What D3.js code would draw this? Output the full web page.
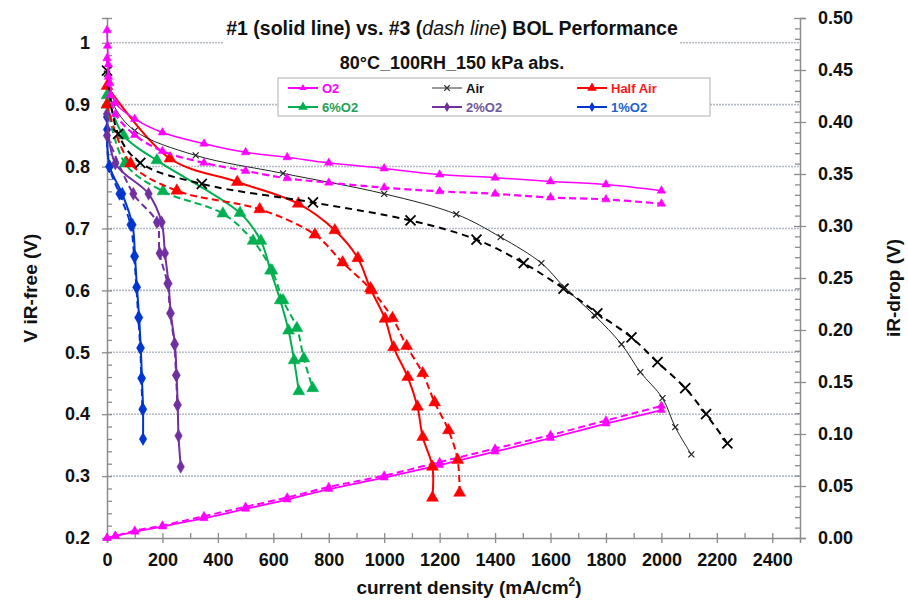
<!DOCTYPE html>
<html><head><meta charset="utf-8">
<script src="https://cdn.jsdelivr.net/npm/d3@7"></script>
<style>
body{margin:0;background:#fff}
svg{display:block}
text{font-family:"Liberation Sans",Arial,sans-serif;font-weight:bold}
</style>
</head><body>
<svg id="c" width="908" height="600"></svg>
<script>
// ---------- data (current density mA/cm2, voltage V) ----------
const O2_1   = [[0,1.02],[2,0.995],[5,0.965],[10,0.935],[30,0.903],[100,0.877],[200,0.855],[350,0.837],[500,0.823],[650,0.815],[800,0.806],[1000,0.797],[1200,0.787],[1400,0.782],[1600,0.776],[1800,0.771],[2000,0.761]];
const O2_3   = [[0,0.975],[5,0.945],[12,0.915],[30,0.885],[100,0.851],[200,0.825],[350,0.806],[500,0.793],[650,0.781],[800,0.774],[1000,0.766],[1200,0.760],[1400,0.756],[1600,0.750],[1800,0.747],[2000,0.740]];
const Air_1  = [[0,0.95],[20,0.903],[100,0.858],[320,0.818],[635,0.789],[1000,0.756],[1260,0.723],[1420,0.686],[1567,0.644],[1650,0.605],[1758,0.560],[1856,0.513],[1924,0.468],[2004,0.426],[2050,0.379],[2108,0.335]];
const Air_3  = [[0,0.955],[40,0.853],[120,0.806],[342,0.772],[743,0.742],[1095,0.713],[1333,0.682],[1503,0.644],[1647,0.603],[1769,0.563],[1892,0.524],[1986,0.484],[2086,0.442],[2161,0.400],[2238,0.353]];
const Half_1 = [[0,0.93],[227,0.813],[470,0.775],[690,0.740],[822,0.697],[905,0.652],[950,0.603],[1003,0.554],[1034,0.508],[1085,0.460],[1120,0.412],[1139,0.363],[1174,0.315],[1174,0.265]];
const Half_3 = [[0,0.90],[85,0.805],[252,0.761],[551,0.731],[750,0.690],[850,0.645],[955,0.600],[1030,0.555],[1081,0.510],[1139,0.466],[1182,0.419],[1232,0.374],[1265,0.326],[1272,0.273]];
const Six_1  = [[0,0.915],[60,0.850],[180,0.810],[480,0.725],[555,0.680],[590,0.632],[625,0.584],[655,0.535],[675,0.487],[692,0.437]];
const Six_3  = [[0,0.90],[65,0.805],[202,0.760],[418,0.724],[527,0.680],[595,0.632],[635,0.584],[685,0.539],[710,0.490],[742,0.442]];
const Two_1  = [[0,0.885],[30,0.805],[150,0.756],[197,0.710],[209,0.660],[222,0.611],[230,0.563],[245,0.513],[251,0.463],[255,0.415],[258,0.365],[266,0.315]];
const Two_3  = [[0,0.850],[95,0.756],[180,0.710],[190,0.660],[218,0.611],[228,0.563],[243,0.513],[249,0.463],[254,0.415]];
const One_1  = [[0,0.88],[10,0.80],[55,0.756],[92,0.706],[101,0.655],[108,0.605],[116,0.556],[122,0.507],[126,0.458],[130,0.408],[130,0.360]];
const One_3  = [[0,0.86],[8,0.80],[45,0.756],[85,0.706],[98,0.655],[106,0.605],[113,0.556],[120,0.507],[124,0.458],[128,0.408]];
// iR-drop (right axis)
const iR_x   = [0,30,100,200,350,500,650,800,1000,1200,1400,1600,1800,2000];
const iR_1   = [0,0.002,0.006,0.011,0.019,0.028,0.037,0.047,0.058,0.070,0.083,0.096,0.110,0.123];
const iR_3   = [0,0.002,0.007,0.012,0.021,0.030,0.039,0.049,0.060,0.073,0.086,0.099,0.113,0.127];
// ticks
const xMajor = d3.range(0,2401,200);
const xMinor = d3.range(100,2500,200);
const yMajor = [0.2,0.3,0.4,0.5,0.6,0.7,0.8,0.9,1.0];
const yMinor = d3.range(0.22,1.041,0.02).filter(v=>Math.abs(v*10-Math.round(v*10))>0.01);
const rMajor = d3.range(0,0.5001,0.05);
const rMinor = d3.range(0.01,0.5,0.01).filter(v=>Math.abs(v*20-Math.round(v*20))>0.01);
const legendNames = ["O2","Air","Half Air","6%O2","2%O2","1%O2"];

// ---------- setup ----------
const svg = d3.select("#c");
const L=107,R=800,T=18,B=538;
const x = d3.scaleLinear([0,2500],[L,R]);
const y = d3.scaleLinear([0.2,1.04],[B,T]);
const yr = d3.scaleLinear([0,0.5],[B,T]);
const AX = "#8c8c8c";

// gridlines
svg.append("g").selectAll("line").data(yMajor.filter(v=>v>0.25)).join("line")
  .attr("x1",L).attr("x2",R).attr("y1",d=>y(d)).attr("y2",d=>y(d))
  .attr("stroke","#b3bcc5").attr("stroke-width",1.6).attr("stroke-dasharray","2,1");

function styleAxis(g){
  g.select(".domain").attr("stroke",AX).attr("stroke-width",1.5);
  g.selectAll(".tick line").attr("stroke",AX).attr("stroke-width",1.3);
  g.selectAll("text").attr("fill","#111").attr("font-size",18).attr("font-weight","bold")
   .attr("font-family",'"Liberation Sans",Arial,sans-serif');
}
// x axis
svg.append("g").attr("transform",`translate(0,${B})`)
  .call(d3.axisBottom(x).tickValues(xMajor).tickSize(5).tickPadding(10).tickFormat(d3.format("d")))
  .call(styleAxis);
svg.append("g").attr("transform",`translate(0,${B})`)
  .call(d3.axisBottom(x).tickValues(xMajor).tickSize(-5).tickFormat("")).call(styleAxis)
  .select(".domain").remove();
svg.append("g").attr("transform",`translate(0,${B})`)
  .call(d3.axisBottom(x).tickValues(xMinor).tickSize(-5).tickFormat("")).call(styleAxis)
  .select(".domain").remove();
// left axis
svg.append("g").attr("transform",`translate(${L},0)`)
  .call(d3.axisLeft(y).tickValues(yMajor).tickSize(5).tickPadding(12).tickFormat(d=>d===1?"1":d.toFixed(1)))
  .call(styleAxis);
svg.append("g").attr("transform",`translate(${L},0)`)
  .call(d3.axisLeft(y).tickValues(yMajor).tickSize(-5).tickFormat("")).call(styleAxis)
  .select(".domain").remove();
svg.append("g").attr("transform",`translate(${L},0)`)
  .call(d3.axisLeft(y).tickValues(yMinor).tickSize(-5).tickFormat("")).call(styleAxis)
  .select(".domain").remove();
// right axis
svg.append("g").attr("transform",`translate(${R},0)`)
  .call(d3.axisRight(yr).tickValues(rMajor).tickSize(6).tickPadding(12).tickFormat(d=>d.toFixed(2)))
  .call(styleAxis);
svg.append("g").attr("transform",`translate(${R},0)`)
  .call(d3.axisRight(yr).tickValues(rMajor).tickSize(-6).tickFormat("")).call(styleAxis)
  .select(".domain").remove();
svg.append("g").attr("transform",`translate(${R},0)`)
  .call(d3.axisRight(yr).tickValues(rMinor).tickSize(-5).tickFormat("")).call(styleAxis)
  .select(".domain").remove();

// axis titles
svg.append("text").attr("transform",`translate(30,${(T+B)/2+10}) rotate(-90)`).attr("text-anchor","middle")
  .attr("dominant-baseline","central").attr("font-size",19).attr("fill","#111").text("V iR-free (V)");
svg.append("text").attr("transform",`translate(893,${(T+B)/2+10}) rotate(-90)`).attr("text-anchor","middle")
  .attr("dominant-baseline","central").attr("font-size",19).attr("fill","#111").text("iR-drop (V)");
const xt = svg.append("text").attr("x",469).attr("y",594).attr("text-anchor","middle")
  .attr("font-size",19).attr("fill","#111");
xt.append("tspan").text("current density (mA/cm");
xt.append("tspan").attr("font-size",12).attr("dy",-8).text("2");
xt.append("tspan").attr("dy",8).text(")");

// ---------- series ----------
const symX = {draw(ctx,size){const r=Math.sqrt(size)/2;ctx.moveTo(-r,-r);ctx.lineTo(r,r);ctx.moveTo(r,-r);ctx.lineTo(-r,r);}};
const C = {o2:"#ff00ff",air:"#000000",half:"#ff0000",six:"#00b050",two:"#7030a0",one:"#0035d0"};
const series = [
  {d:iR_x.map((v,i)=>[v,iR_1[i]]),col:C.o2,sym:d3.symbolTriangle,size:30,w:1.8,dash:null,right:true},
  {d:iR_x.map((v,i)=>[v,iR_3[i]]),col:C.o2,sym:d3.symbolTriangle,size:30,w:2,dash:"7,4",right:true},
  {d:One_3,col:C.one,sym:d3.symbolDiamond,size:48,w:2,dash:"7,4"},
  {d:One_1,col:C.one,sym:d3.symbolDiamond,size:48,w:2,dash:null},
  {d:Two_3,col:C.two,sym:d3.symbolDiamond,size:48,w:2,dash:"7,4"},
  {d:Two_1,col:C.two,sym:d3.symbolDiamond,size:48,w:2,dash:null},
  {d:Six_3,col:C.six,sym:d3.symbolTriangle,size:62,w:2,dash:"7,4"},
  {d:Six_1,col:C.six,sym:d3.symbolTriangle,size:62,w:2,dash:null},
  {d:Half_3,col:C.half,sym:d3.symbolTriangle,size:62,w:2,dash:"7,4"},
  {d:Half_1,col:C.half,sym:d3.symbolTriangle,size:62,w:2,dash:null},
  {d:Air_3,col:C.air,sym:symX,size:100,w:2,dash:"7,5",stroke:true,sw:1.8},
  {d:Air_1,col:"#222",sym:symX,size:36,w:1,dash:null,stroke:true,sw:1.2},
  {d:O2_3,col:C.o2,sym:d3.symbolTriangle,size:32,w:2.2,dash:"7,4"},
  {d:O2_1,col:C.o2,sym:d3.symbolTriangle,size:32,w:1.5,dash:null},
];
const plot = svg.append("g");
series.forEach(s=>{
  const yy = s.right?yr:y;
  const line = d3.line().x(d=>x(d[0])).y(d=>yy(d[1])).curve(d3.curveCatmullRom.alpha(0.5));
  plot.append("path").attr("d",line(s.d)).attr("fill","none").attr("stroke",s.col)
    .attr("stroke-width",s.w).attr("stroke-dasharray",s.dash);
  plot.append("g").selectAll("path").data(s.d).join("path")
    .attr("transform",d=>`translate(${x(d[0])},${yy(d[1])})`)
    .attr("d",d3.symbol().type(s.sym).size(s.size))
    .attr("fill",s.stroke?"none":s.col).attr("stroke",s.col).attr("stroke-width",s.stroke?s.sw:0.5);
});

// ---------- title ----------
svg.append("rect").attr("x",223).attr("y",19).attr("width",457).attr("height",58).attr("fill","#fff");
const t1 = svg.append("text").attr("x",452).attr("y",35).attr("text-anchor","middle").attr("font-size",19.5)
  .attr("fill","#111").attr("font-family","Lato, 'Liberation Sans', sans-serif");
t1.append("tspan").text("#1 (solid line) vs. #3 (");
t1.append("tspan").attr("font-style","italic").attr("font-weight","normal").text("dash line");
t1.append("tspan").text(") BOL Performance");
svg.append("text").attr("x",452).attr("y",69).attr("text-anchor","middle").attr("font-size",18)
  .attr("fill","#111").attr("font-family","Lato, 'Liberation Sans', sans-serif").text("80°C_100RH_150 kPa abs.");

// ---------- legend ----------
const leg = svg.append("g");
leg.append("rect").attr("x",278).attr("y",78).attr("width",432).attr("height",38)
  .attr("fill","#fff").attr("stroke","#bdbdbd").attr("stroke-width",1.2);
const legItems = [
  {n:legendNames[0],col:C.o2,tc:"#ff00ff",sym:d3.symbolTriangle,size:22},
  {n:legendNames[1],col:"#333",tc:"#111",sym:symX,size:30,stroke:true},
  {n:legendNames[2],col:C.half,tc:"#ff1a1a",sym:d3.symbolTriangle,size:40},
  {n:legendNames[3],col:C.six,tc:"#1fa257",sym:d3.symbolTriangle,size:40},
  {n:legendNames[4],col:C.two,tc:"#6b5a9e",sym:d3.symbolDiamond,size:30},
  {n:legendNames[5],col:C.one,tc:"#1f5fcf",sym:d3.symbolDiamond,size:30},
];
const colX=[288,432,577], rowY=[88,107];
legItems.forEach((it,i)=>{
  const cx=colX[i%3], cy=rowY[Math.floor(i/3)];
  const g=leg.append("g");
  g.append("line").attr("x1",cx).attr("x2",cx+30).attr("y1",cy).attr("y2",cy)
    .attr("stroke",it.col).attr("stroke-width",it.stroke?1:2);
  g.append("path").attr("transform",`translate(${cx+15},${cy})`).attr("d",d3.symbol().type(it.sym).size(it.size))
    .attr("fill",it.stroke?"none":it.col).attr("stroke",it.col).attr("stroke-width",it.stroke?1.2:0);
  g.append("text").attr("x",cx+34).attr("y",cy).attr("dominant-baseline","central")
    .attr("font-size",13).attr("fill",it.tc).text(it.n);
});
</script>
</body></html>
